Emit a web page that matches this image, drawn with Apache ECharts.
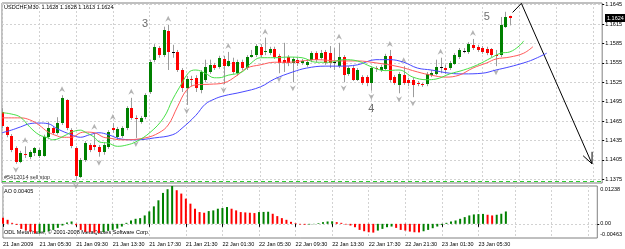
<!DOCTYPE html>
<html>
<head>
<meta charset="utf-8">
<script src="https://cdn.jsdelivr.net/npm/echarts@6/dist/echarts.min.js"></script>
<style>
  html, body { margin: 0; padding: 0; background: #fff; }
  #chart { width: 625px; height: 249px; }
</style>
</head>
<body>
<div id="chart"></div>
<script>
// USDCHF M30, 21 Jan 2009 01:30 .. 23 Jan 08:30 (one entry per bar)
var opens = [1.1479,1.1456,1.1442,1.1423,1.1402,1.1414,1.1410,1.1416,1.1411,1.1411,
  1.1440,1.1454,1.1447,1.1462,1.1498,1.1451,1.1423,1.1379,1.1405,1.1428,
  1.1428,1.1425,1.1417,1.1425,1.1454,1.1440,1.1442,1.1454,1.1485,1.1470,
  1.1464,1.1471,1.1510,1.1560,1.1578,1.1567,1.1604,1.1572,1.1572,1.1544,
  1.1516,1.1530,1.1532,1.1513,1.1529,1.1541,1.1552,1.1549,1.1561,1.1550,
  1.1556,1.1539,1.1556,1.1547,1.1564,1.1567,1.1580,1.1572,1.1570,1.1577,
  1.1566,1.1560,1.1564,1.1555,1.1560,1.1555,1.1552,1.1560,1.1570,1.1563,
  1.1572,1.1570,1.1556,1.1550,1.1564,1.1538,1.1547,1.1529,1.1533,1.1533,
  1.1524,1.1547,1.1544,1.1546,1.1566,1.1533,1.1521,1.1536,1.1529,1.1529,
  1.1524,1.1522,1.1522,1.1536,1.1538,1.1549,1.1547,1.1547,1.1553,1.1564,
  1.1573,1.1572,1.1583,1.1580,1.1578,1.1577,1.1577,1.1567,1.1567,1.1611,1.1628];
var closes = [1.1457,1.1444,1.1420,1.1402,1.1416,1.1413,1.1417,1.1423,1.1420,1.1440,
  1.1454,1.1447,1.1462,1.1501,1.1454,1.1426,1.1380,1.1405,1.1431,1.1420,
  1.1425,1.1417,1.1428,1.1448,1.1451,1.1453,1.1454,1.1485,1.1470,1.1468,
  1.1470,1.1505,1.1556,1.1580,1.1567,1.1606,1.1572,1.1572,1.1544,1.1516,
  1.1530,1.1529,1.1516,1.1541,1.1549,1.1552,1.1547,1.1563,1.1550,1.1558,
  1.1541,1.1556,1.1547,1.1564,1.1567,1.1581,1.1567,1.1573,1.1577,1.1564,
  1.1555,1.1555,1.1555,1.1561,1.1555,1.1558,1.1556,1.1570,1.1560,1.1570,
  1.1555,1.1555,1.1556,1.1564,1.1536,1.1547,1.1529,1.1544,1.1524,1.1524,
  1.1547,1.1546,1.1549,1.1566,1.1529,1.1524,1.1538,1.1524,1.1524,1.1521,
  1.1522,1.1521,1.1538,1.1539,1.1549,1.1549,1.1544,1.1555,1.1567,1.1575,
  1.1573,1.1584,1.1578,1.1575,1.1572,1.1570,1.1567,1.1566,1.1614,1.1626,1.1624];
var highs = [1.1485,1.1457,1.1445,1.1426,1.1419,1.1426,1.1420,1.1425,1.1423,1.1444,
  1.1464,1.1457,1.1471,1.1505,1.1499,1.1454,1.1426,1.1408,1.1434,1.1431,
  1.1447,1.1428,1.1431,1.1451,1.1462,1.1456,1.1457,1.1488,1.1501,1.1474,
  1.1473,1.1508,1.1560,1.1584,1.1581,1.1611,1.1614,1.1583,1.1575,1.1547,
  1.1535,1.1535,1.1536,1.1544,1.1560,1.1560,1.1555,1.1566,1.1566,1.1572,
  1.1563,1.1560,1.1560,1.1567,1.1575,1.1584,1.1584,1.1594,1.1580,1.1580,
  1.1569,1.1586,1.1567,1.1564,1.1563,1.1561,1.1560,1.1573,1.1573,1.1575,
  1.1575,1.1581,1.1578,1.1586,1.1567,1.1550,1.1550,1.1547,1.1536,1.1536,
  1.1550,1.1550,1.1552,1.1569,1.1575,1.1536,1.1541,1.1550,1.1532,1.1532,
  1.1527,1.1524,1.1541,1.1544,1.1560,1.1563,1.1552,1.1558,1.1570,1.1578,
  1.1578,1.1587,1.1592,1.1583,1.1581,1.1580,1.1578,1.1575,1.1626,1.1634,1.1628];
var lows = [1.1454,1.1440,1.1417,1.1399,1.1400,1.1408,1.1406,1.1411,1.1408,1.1410,
  1.1437,1.1444,1.1444,1.1459,1.1451,1.1423,1.1374,1.1377,1.1402,1.1417,
  1.1420,1.1410,1.1413,1.1422,1.1447,1.1436,1.1439,1.1451,1.1467,1.1439,
  1.1461,1.1468,1.1507,1.1556,1.1563,1.1564,1.1544,1.1563,1.1541,1.1510,
  1.1490,1.1519,1.1510,1.1508,1.1525,1.1538,1.1544,1.1546,1.1522,1.1549,
  1.1538,1.1535,1.1544,1.1544,1.1563,1.1564,1.1564,1.1567,1.1567,1.1561,
  1.1539,1.1541,1.1550,1.1525,1.1550,1.1552,1.1549,1.1556,1.1556,1.1560,
  1.1552,1.1547,1.1544,1.1547,1.1525,1.1535,1.1527,1.1527,1.1521,1.1519,
  1.1512,1.1541,1.1541,1.1543,1.1525,1.1521,1.1508,1.1521,1.1519,1.1502,
  1.1519,1.1518,1.1519,1.1533,1.1536,1.1539,1.1538,1.1544,1.1552,1.1561,
  1.1570,1.1569,1.1575,1.1572,1.1569,1.1567,1.1564,1.1550,1.1564,1.1609,1.1613];

// Awesome Oscillator, one value per bar
var aoValues = [0.00198,0.00132,0.00033,-0.00033,-0.00165,-0.0022,-0.00264,-0.00308,-0.00297,-0.00275,
  -0.00242,-0.00198,-0.00132,-0.00055,0.00044,0.00077,-0.00044,-0.00198,-0.00264,-0.00275,
  -0.00286,-0.00297,-0.00264,-0.00231,-0.00198,-0.00154,-0.00088,0.00033,0.0011,0.00165,
  0.00187,0.00275,0.00407,0.00572,0.0077,0.01012,0.01133,0.01238,0.011,0.0099,
  0.00825,0.0066,0.00495,0.00385,0.00363,0.00418,0.0044,0.00495,0.00517,0.0055,
  0.00495,0.0044,0.00385,0.00374,0.00363,0.00352,0.00385,0.0039,0.00396,0.0033,
  0.00253,0.00187,0.00132,0.00066,0.00022,-0.00022,-0.00028,-0.00022,-0.00011,0.00022,
  0.00055,0.00077,0.00083,0.00055,0.00033,-0.00022,-0.00055,-0.0011,-0.00198,-0.00242,
  -0.00275,-0.00286,-0.0022,-0.00165,-0.0011,-0.00088,-0.00132,-0.00198,-0.0022,-0.00253,
  -0.00275,-0.0028,-0.00242,-0.00198,-0.00143,-0.00088,-0.00033,0.00033,0.00077,0.0011,
  0.00165,0.0022,0.00275,0.00308,0.00319,0.00325,0.00297,0.00275,0.00297,0.0033,0.00405];

// Alligator lines, read at sample bars: [bar, price]
var lipsLine = [[0,1.1478],[2,1.1476],[4,1.1471],[6,1.1456],[8,1.1444],[10,1.1439],[11,1.1436],[14,1.1444],
  [15,1.1448],[17,1.1451],[18,1.1448],[20,1.1440],[21,1.1433],[23,1.1431],[25,1.1426],[27,1.1428],
  [29,1.1433],[32,1.1447],[35,1.1470],[37,1.1499],[39,1.1524],[40,1.1536],[41,1.1543],[42,1.1544],
  [44,1.1539],[46,1.1532],[47,1.1532],[49,1.1536],[52,1.1541],[54,1.1555],[56,1.1563],[59,1.1563],
  [62,1.1564],[65,1.1563],[68,1.1556],[71,1.1556],[74,1.1560],[77,1.1558],[80,1.1549],[83,1.1543],
  [86,1.1544],[89,1.1533],[92,1.1529],[94,1.1530],[97,1.1538],[100,1.1544],[103,1.1552],[106,1.1563],
  [108,1.1570],[110,1.1572],[112,1.1581],[113,1.1589]];
var teethLine = [[0,1.1470],[4,1.1470],[6,1.1467],[8,1.1459],[10,1.1448],[12,1.1442],[13,1.1440],[15,1.1440],
  [17,1.1447],[18,1.1448],[20,1.1447],[22,1.1440],[23,1.1439],[26,1.1436],[31,1.1439],[34,1.1447],
  [36,1.1459],[38,1.1487],[40,1.1513],[42,1.1521],[45,1.1522],[48,1.1524],[51,1.1536],[53,1.1547],
  [56,1.1552],[59,1.1556],[62,1.1556],[65,1.1558],[68,1.1560],[73,1.1558],[77,1.1558],[81,1.1555],
  [86,1.1549],[90,1.1541],[93,1.1536],[96,1.1533],[99,1.1536],[102,1.1547],[105,1.1555],[107,1.1561],
  [110,1.1564],[113,1.1570],[115,1.1580]];
var jawLine = [[0,1.1447],[2,1.1451],[4,1.1456],[6,1.1461],[8,1.1462],[10,1.1461],[12,1.1453],[15,1.1444],
  [17,1.1440],[19,1.1444],[21,1.1447],[23,1.1444],[26,1.1437],[29,1.1436],[33,1.1439],[37,1.1444],
  [39,1.1454],[42,1.1474],[44,1.1491],[46,1.1499],[48,1.1504],[52,1.1510],[56,1.1518],[59,1.1530],
  [63,1.1541],[66,1.1547],[70,1.1550],[73,1.1550],[77,1.1552],[81,1.1560],[84,1.1560],[87,1.1556],
  [90,1.1547],[93,1.1544],[97,1.1539],[100,1.1538],[104,1.1539],[107,1.1544],[110,1.1549],[113,1.1555],
  [115,1.1560],[118,1.1570]];

var fractalUpBars = [5,13,20,24,28,36,49,57,73,84,87,95,102];
var fractalDownBars = [3,16,21,29,40,48,60,63,74,80,86,89,107];

var waveMarks = [{bar: 31, price: 1.1615, text: '3'}, {bar: 80, price: 1.1484, text: '4'}, {bar: 105, price: 1.1626, text: '5'}];
var arrowPath = [[110.6, 1.1633], [112.5, 1.1647], [127.8, 1.1399]];
var sellStopPrice = 1.1372;

var priceTicks = [1.1375,1.1405,1.1435,1.1465,1.1495,1.1525,1.1555,1.1585,1.1615,1.1645];
var tickBars = [0,8,16,24,32,40,48,56,64,72,80,88,96,104];
var tickLabels = ['21 Jan 2009','21 Jan 05:30','21 Jan 09:30','21 Jan 13:30','21 Jan 17:30','21 Jan 21:30',
  '22 Jan 01:30','22 Jan 05:30','22 Jan 09:30','22 Jan 13:30','22 Jan 17:30','22 Jan 21:30',
  '23 Jan 01:30','23 Jan 05:30'];

var slotCount = 131;
var categories = [];
for (var k = 0; k < slotCount; k++) categories.push(String(k));

var aoMin = -0.00463, aoMax = 0.01238;
var FONT = 'Liberation Sans';
var SMALL = 5.5;
var gridColor = '#d2d2d2';
var frameColor = '#808080';

var chart = echarts.init(document.getElementById('chart'));

function everyEighth(idx) { return idx % 8 === 0; }

function renderCandle(params, api) {
  var i = api.value(0);
  var o = api.coord([i, api.value(1)]);
  var c = api.coord([i, api.value(2)]);
  var l = api.coord([i, api.value(3)]);
  var h = api.coord([i, api.value(4)]);
  var x = Math.round(o[0]);
  var top = Math.round(Math.min(o[1], c[1]));
  var bot = Math.round(Math.max(o[1], c[1]));
  var kids = [{
    type: 'line',
    shape: {x1: x + 0.5, y1: h[1], x2: x + 0.5, y2: l[1]},
    style: {stroke: '#9c9c9c', lineWidth: 1}
  }];
  if (bot - top < 1) {
    kids.push({type: 'line', shape: {x1: x - 1, y1: top + 0.5, x2: x + 2, y2: top + 0.5},
      style: {stroke: '#000', lineWidth: 1}});
  } else {
    kids.push({type: 'rect', shape: {x: x - 1, y: top, width: 3, height: bot - top},
      style: {fill: api.value(2) > api.value(1) ? '#008000' : '#ff0000'}});
  }
  return {type: 'group', children: kids};
}

function renderArrow(params, api) {
  var bw = api.size([1, 0])[0];
  var pts = arrowPath.map(function (p) {
    var b = Math.floor(p[0]);
    var q = api.coord([b, p[1]]);
    return [q[0] + (p[0] - b) * bw, q[1]];
  });
  var tip = pts[pts.length - 1], prev = pts[pts.length - 2];
  var ang = Math.atan2(prev[1] - tip[1], prev[0] - tip[0]);
  var len = 12, spread = 0.42;
  var a1 = [tip[0] + len * Math.cos(ang + spread), tip[1] + len * Math.sin(ang + spread)];
  var a2 = [tip[0] + len * Math.cos(ang - spread), tip[1] + len * Math.sin(ang - spread)];
  var st = {stroke: '#000', lineWidth: 1, fill: null};
  return {type: 'group', children: [
    {type: 'polyline', shape: {points: pts}, style: st},
    {type: 'polyline', shape: {points: [a1, tip, a2]}, style: st}
  ]};
}

// pending order level drawn across the whole price window
function renderStop(params, api) {
  var cs = params.coordSys;
  var y = Math.round(api.coord([0, api.value(1)])[1]) + 0.5;
  return {type: 'line', shape: {x1: cs.x, y1: y, x2: cs.x + cs.width, y2: y},
    style: {stroke: '#2ecc2e', lineWidth: 1, lineDash: [4, 3]}};
}

var candleData = opens.map(function (o, i) { return [i, o, closes[i], lows[i], highs[i]]; });
var aoData = aoValues.map(function (v, i) {
  var up = i > 0 && v > aoValues[i - 1];
  return {value: v, itemStyle: {color: up ? '#008000' : '#ff0000'}};
});

var aoInset = (aoMax - aoMin) / 52 * 3.2;

var option = {
  animation: false,
  backgroundColor: '#ffffff',
  textStyle: {fontFamily: FONT},
  grid: [
    {left: 2, top: 3, width: 602.5, height: 180, show: true, borderColor: frameColor, borderWidth: 1},
    {left: 2, top: 186, width: 602.5, height: 52, show: true, borderColor: frameColor, borderWidth: 1}
  ],
  xAxis: [
    {
      type: 'category', gridIndex: 0, data: categories, boundaryGap: false,
      axisLine: {show: false}, axisTick: {show: false}, axisLabel: {show: false},
      splitLine: {show: true, interval: everyEighth, lineStyle: {color: gridColor, type: [2, 2]}}
    },
    {
      type: 'category', gridIndex: 1, data: categories, boundaryGap: false,
      axisLine: {show: false},
      axisTick: {show: true, interval: function (i) { return tickBars.indexOf(i) >= 0; }, length: 3,
        lineStyle: {color: '#000'}},
      axisLabel: {
        show: true, interval: function (i) { return tickBars.indexOf(i) >= 0; },
        formatter: function (v, i) { var j = tickBars.indexOf(Number(v)); return j >= 0 ? tickLabels[j] : ''; },
        align: 'left', margin: 3, fontSize: SMALL, color: '#000', fontFamily: FONT
      },
      splitLine: {show: true, interval: everyEighth, lineStyle: {color: gridColor, type: [2, 2]}}
    }
  ],
  yAxis: [
    {
      type: 'value', gridIndex: 0, position: 'right', min: 1.13693, max: 1.16476,
      axisLine: {show: false},
      axisTick: {show: true, customValues: priceTicks, length: 2, lineStyle: {color: '#000'}},
      axisLabel: {show: true, customValues: priceTicks, margin: 3, fontSize: SMALL, color: '#000',
        fontFamily: FONT, formatter: function (v) { return v.toFixed(4); }},
      splitLine: {show: true, lineStyle: {color: gridColor, type: [2, 2]}}
    },
    {
      type: 'value', gridIndex: 1, position: 'right', min: aoMin, max: aoMax,
      axisLine: {show: false},
      axisTick: {show: true, customValues: [0], length: 2, lineStyle: {color: '#000'}},
      axisLabel: {
        show: true, customValues: [aoMin + aoInset, 0, aoMax - aoInset], margin: 3,
        fontSize: SMALL, color: '#000', fontFamily: FONT,
        formatter: function (v) {
          if (v > 0) return aoMax.toFixed(5);
          if (v < 0) return aoMin.toFixed(5);
          return '0.00';
        }
      },
      splitLine: {show: true, lineStyle: {color: gridColor, type: [2, 2]}}
    }
  ],
  series: [
    {
      type: 'custom', name: 'sellStop', xAxisIndex: 0, yAxisIndex: 0, silent: true,
      data: [[0, sellStopPrice]], renderItem: renderStop, clip: false
    },
    {
      type: 'line', name: 'jaw', xAxisIndex: 0, yAxisIndex: 0, data: jawLine, smooth: 0.4,
      showSymbol: false, lineStyle: {color: '#4848ff', width: 1}, silent: true
    },
    {
      type: 'line', name: 'teeth', xAxisIndex: 0, yAxisIndex: 0, data: teethLine, smooth: 0.4,
      showSymbol: false, lineStyle: {color: '#ff5a5a', width: 1}, silent: true
    },
    {
      type: 'line', name: 'lips', xAxisIndex: 0, yAxisIndex: 0, data: lipsLine, smooth: 0.4,
      showSymbol: false, lineStyle: {color: '#48e048', width: 1}, silent: true
    },
    {
      type: 'custom', name: 'candles', xAxisIndex: 0, yAxisIndex: 0, data: candleData,
      renderItem: renderCandle, clip: true, silent: true,
      encode: {x: 0, y: [1, 2, 3, 4]}
    },
    {
      type: 'scatter', name: 'fractalUp', xAxisIndex: 0, yAxisIndex: 0, silent: true,
      data: fractalUpBars.map(function (i) { return [i, highs[i]]; }),
      symbol: 'path://M5,0 L10,9 L5,6 L0,9 Z', symbolSize: [6, 6], symbolOffset: [0, -6],
      itemStyle: {color: '#a0a0a0'}
    },
    {
      type: 'scatter', name: 'fractalDown', xAxisIndex: 0, yAxisIndex: 0, silent: true,
      data: fractalDownBars.map(function (i) { return [i, lows[i]]; }),
      symbol: 'path://M0,0 L5,3 L10,0 L5,9 Z', symbolSize: [6, 6], symbolOffset: [0, 6],
      itemStyle: {color: '#a0a0a0'}
    },
    {
      type: 'scatter', name: 'waves', xAxisIndex: 0, yAxisIndex: 0, silent: true, symbolSize: 0,
      data: waveMarks.map(function (w) { return {value: [w.bar, w.price], name: w.text}; }),
      label: {show: true, position: 'inside', formatter: '{b}', fontSize: 11, color: '#4a4a4a', fontFamily: FONT}
    },
    {
      type: 'custom', name: 'arrow', xAxisIndex: 0, yAxisIndex: 0, silent: true,
      data: [arrowPath[0]], renderItem: renderArrow, clip: true
    },
    {
      type: 'bar', name: 'AO', xAxisIndex: 1, yAxisIndex: 1, data: aoData, barWidth: 2, silent: true
    }
  ]
};

chart.setOption(option);

// texts and current price box
var last = opens.length - 1;
var priceY = chart.convertToPixel({yAxisIndex: 0}, closes[last]);
var stopY = chart.convertToPixel({yAxisIndex: 0}, sellStopPrice);
var smallFont = SMALL + 'px "' + FONT + '"';
chart.setOption({
  graphic: [
    {type: 'text', left: 4, top: 4, style: {
      text: 'USDCHF,M30  ' + opens[last].toFixed(4) + ' ' + highs[last].toFixed(4) + ' ' +
        lows[last].toFixed(4) + ' ' + closes[last].toFixed(4), font: smallFont, fill: '#000'}},
    {type: 'text', left: 4, top: stopY - 7, style: {text: '#5412014 sell stop', font: smallFont, fill: '#333'}},
    {type: 'text', left: 4, top: 188, style: {text: 'AO ' + aoValues[last].toFixed(5), font: smallFont, fill: '#000'}},
    {type: 'text', left: 4, top: 229, style: {
      text: 'ODL MetaTrader, \u00a9 2001-2008 MetaQuotes Software Corp.', font: smallFont, fill: '#000'}},
    {type: 'rect', left: 605, top: Math.round(priceY) - 4, shape: {width: 20, height: 8}, style: {fill: '#000'}},
    {type: 'text', left: 607, top: Math.round(priceY) - 3, style: {text: closes[last].toFixed(4), font: smallFont, fill: '#fff'}}
  ]
});
</script>
</body>
</html>
